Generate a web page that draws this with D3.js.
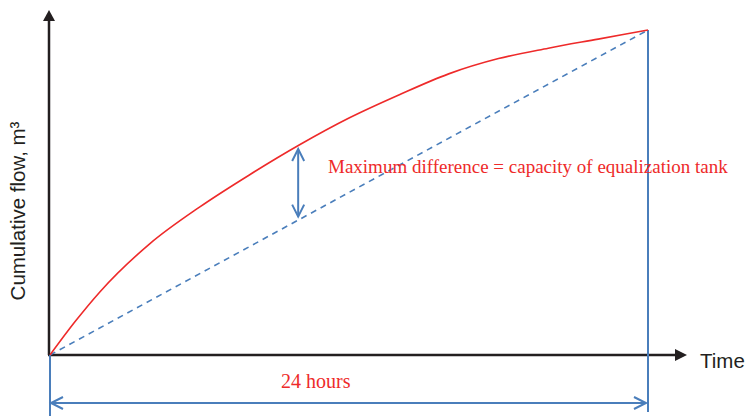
<!DOCTYPE html>
<html><head><meta charset="utf-8">
<script src="https://cdn.jsdelivr.net/npm/d3@7"></script>
<style>body{margin:0;background:#fff}svg{display:block}</style>
</head><body>
<svg id="c" width="748" height="416"></svg>
<script>
// hours since start
const hours = [0, 1, 2, 4, 6, 8, 10, 12, 14, 16, 18, 20, 22, 24];
// cumulative inflow (percent of daily total)
const cumulative = [0, 10.2, 19.4, 34.2, 45.5, 55.4, 64.6, 72.9, 80.0, 86.5, 91.2, 94.4, 97.2, 100];
// average (constant-rate) line endpoints
const avgHours = [0, 24];
const avgFlow = [0, 100];
const maxDiffHour = 10;
const annotation = "Maximum difference = capacity of equalization tank";
const periodLabel = "24 hours";
const xLabel = "Time";
const yLabel = "Cumulative flow, m³";

const svg = d3.select("#c");
const x = d3.scaleLinear().domain([0, 24]).range([50, 648]);
const y = d3.scaleLinear().domain([0, 100]).range([355, 30]);

const red = "#ee2a2a", blue = "#4a7ebb";

// axes
svg.append("line").attr("x1", 49).attr("y1", 355).attr("x2", 49).attr("y2", 20)
  .attr("stroke", "#231f20").attr("stroke-width", 2.5);
svg.append("path").attr("d", "M49,10 L43,21 L55,21 Z").attr("fill", "#231f20");
svg.append("line").attr("x1", 48).attr("y1", 355).attr("x2", 676).attr("y2", 355)
  .attr("stroke", "#231f20").attr("stroke-width", 2.5);
svg.append("path").attr("d", "M687,355 L675,349 L675,361 Z").attr("fill", "#231f20");

// blue verticals
svg.append("line").attr("x1", x(24)).attr("y1", y(100)).attr("x2", x(24)).attr("y2", 412)
  .attr("stroke", blue).attr("stroke-width", 2);
svg.append("line").attr("x1", x(0)).attr("y1", y(0)).attr("x2", x(0)).attr("y2", 416)
  .attr("stroke", blue).attr("stroke-width", 2);

// average dashed line
svg.append("path").datum(avgHours.map((h, i) => [h, avgFlow[i]]))
  .attr("d", d3.line().x(d => x(d[0])).y(d => y(d[1])))
  .attr("fill", "none").attr("stroke", blue).attr("stroke-width", 1.6)
  .attr("stroke-dasharray", "6,5");

// cumulative curve
svg.append("path").datum(hours.map((h, i) => [h, cumulative[i]]))
  .attr("d", d3.line().x(d => x(d[0])).y(d => y(d[1])).curve(d3.curveMonotoneX))
  .attr("fill", "none").attr("stroke", red).attr("stroke-width", 1.6);

// vertical double arrow at max difference
const ax = x(maxDiffHour) - 1;
const curveVal = cumulative[hours.indexOf(maxDiffHour)];
const avgVal = maxDiffHour / 24 * 100;
const yTop = y(curveVal) + 4, yBot = y(avgVal) - 3;
svg.append("line").attr("x1", ax).attr("y1", yTop).attr("x2", ax).attr("y2", yBot)
  .attr("stroke", blue).attr("stroke-width", 2);
svg.append("path").attr("d", `M${ax-6},${yTop+12} L${ax},${yTop} L${ax+6},${yTop+12} M${ax-6},${yBot-12} L${ax},${yBot} L${ax+6},${yBot-12}`)
  .attr("fill", "none").attr("stroke", blue).attr("stroke-width", 2);

// horizontal double arrow
const hy = 403, hl = x(0) + 1, hr = x(24) - 2;
svg.append("line").attr("x1", hl).attr("y1", hy).attr("x2", hr).attr("y2", hy)
  .attr("stroke", blue).attr("stroke-width", 2);
svg.append("path").attr("d", `M${hl+12},${hy-6} L${hl},${hy} L${hl+12},${hy+6} M${hr-12},${hy-6} L${hr},${hy} L${hr-12},${hy+6}`)
  .attr("fill", "none").attr("stroke", blue).attr("stroke-width", 2);

// texts
svg.append("text").attr("x", 328).attr("y", 173).text(annotation)
  .attr("font-family", "'Liberation Serif', 'Times New Roman', serif").attr("font-size", 19).attr("fill", red);
svg.append("text").attr("x", 281).attr("y", 388).text(periodLabel)
  .attr("font-family", "'Liberation Serif', 'Times New Roman', serif").attr("font-size", 20).attr("fill", red);
svg.append("text").attr("x", 700).attr("y", 368).text(xLabel)
  .attr("font-family", "'Liberation Sans', Arial, sans-serif").attr("font-size", 20.5).attr("fill", "#231f20");
svg.append("text").attr("transform", "translate(25,211) rotate(-90)").attr("text-anchor", "middle")
  .text(yLabel).attr("font-family", "'Liberation Sans', Arial, sans-serif").attr("font-size", 20.5).attr("fill", "#231f20");
</script>
</body></html>
